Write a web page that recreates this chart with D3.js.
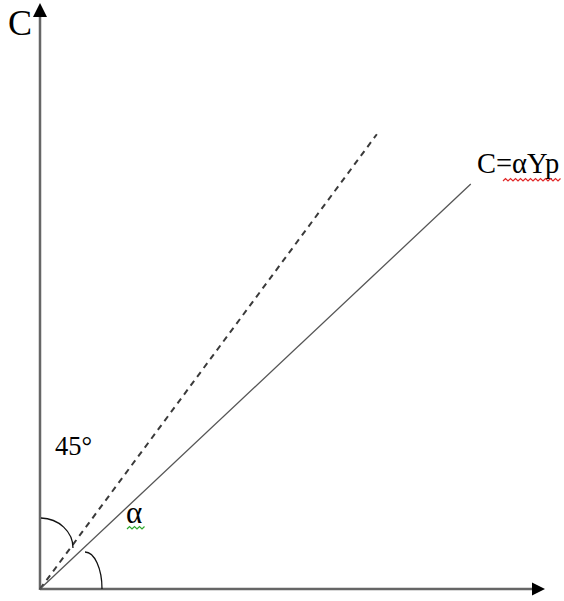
<!DOCTYPE html>
<html>
<head>
<meta charset="utf-8">
<script src="https://cdn.jsdelivr.net/npm/d3@7"></script>
<style>
  html, body { margin: 0; padding: 0; background: #fff; }
  svg { display: block; }
  text { font-family: "Liberation Serif", "Times New Roman", serif; fill: #000; }
</style>
</head>
<body>
<svg id="chart" width="564" height="601"></svg>
<script>
// Consumption function diagram: C against disposable income Yp
const axisLabels = ["C"];
const lineLabels = ["C=αYp", "45°", "α"];
// end points of the two rays from the origin, in axis units (0..100)
const ray45 = [[0, 0], [66.7, 77.6]];
const rayC = [[0, 0], [85.3, 69.1]];

const svg = d3.select("#chart");

const x = d3.scaleLinear().domain([0, 100]).range([40, 545]);
const y = d3.scaleLinear().domain([0, 100]).range([589, 3]);

const axisColor = "#666";
const head = 13;

// x axis with arrowhead
svg.append("line")
  .attr("x1", x(0)).attr("y1", y(0))
  .attr("x2", x(100) - head + 1).attr("y2", y(0))
  .attr("stroke", axisColor).attr("stroke-width", 2.5);
svg.append("path")
  .attr("d", `M${x(100)},${y(0)} L${x(100) - head},${y(0) - 6.5} L${x(100) - head},${y(0) + 6.5} Z`)
  .attr("fill", "#000");

// y axis with arrowhead
svg.append("line")
  .attr("x1", x(0)).attr("y1", y(0) + 1)
  .attr("x2", x(0)).attr("y2", y(100) + head - 1)
  .attr("stroke", axisColor).attr("stroke-width", 2.5);
svg.append("path")
  .attr("d", `M${x(0)},${y(100)} L${x(0) - 7},${y(100) + head + 1} L${x(0) + 7},${y(100) + head + 1} Z`)
  .attr("fill", "#000");

const line = d3.line().x(d => x(d[0])).y(d => y(d[1]));

// 45 degree reference ray (dashed)
svg.append("path")
  .attr("d", line(ray45))
  .attr("fill", "none")
  .attr("stroke", "#3a3a3a")
  .attr("stroke-width", 2)
  .attr("stroke-dasharray", "6,5");

// consumption ray C = αYp
svg.append("path")
  .attr("d", line(rayC))
  .attr("fill", "none")
  .attr("stroke", "#555")
  .attr("stroke-width", 1.3);

// angle arcs at the origin
svg.append("path")
  .attr("d", "M41,518 A33,30 0 0 1 73,548")
  .attr("fill", "none").attr("stroke", "#111").attr("stroke-width", 1.3);
svg.append("path")
  .attr("d", "M85,552 A17,37 0 0 1 102,589")
  .attr("fill", "none").attr("stroke", "#111").attr("stroke-width", 1.3);

// labels
svg.append("text").attr("x", 8).attr("y", 35)
  .style("font-size", "36px").text(axisLabels[0]);

svg.append("text").attr("x", 477).attr("y", 173)
  .style("font-size", "28.5px").text(lineLabels[0]);

svg.append("text").attr("x", 55).attr("y", 455)
  .style("font-size", "26.5px").text(lineLabels[1]);

svg.append("text").attr("x", 126).attr("y", 523)
  .style("font-size", "31px").text(lineLabels[2]);

// wavy proofing underlines
function wavy(x0, x1, yy, amp, step) {
  let d = `M${x0},${yy}`;
  let up = true;
  for (let xx = x0 + step; xx <= x1; xx += step) {
    d += ` L${xx},${yy + (up ? -amp : 0)}`;
    up = !up;
  }
  return d;
}
svg.append("path").attr("d", wavy(503, 562, 181, 2.5, 2.5))
  .attr("fill", "none").attr("stroke", "#e02828").attr("stroke-width", 1.2);
svg.append("path").attr("d", wavy(127, 145, 529, 2.5, 2.5))
  .attr("fill", "none").attr("stroke", "#2fa82f").attr("stroke-width", 1.2);
</script>
</body>
</html>
